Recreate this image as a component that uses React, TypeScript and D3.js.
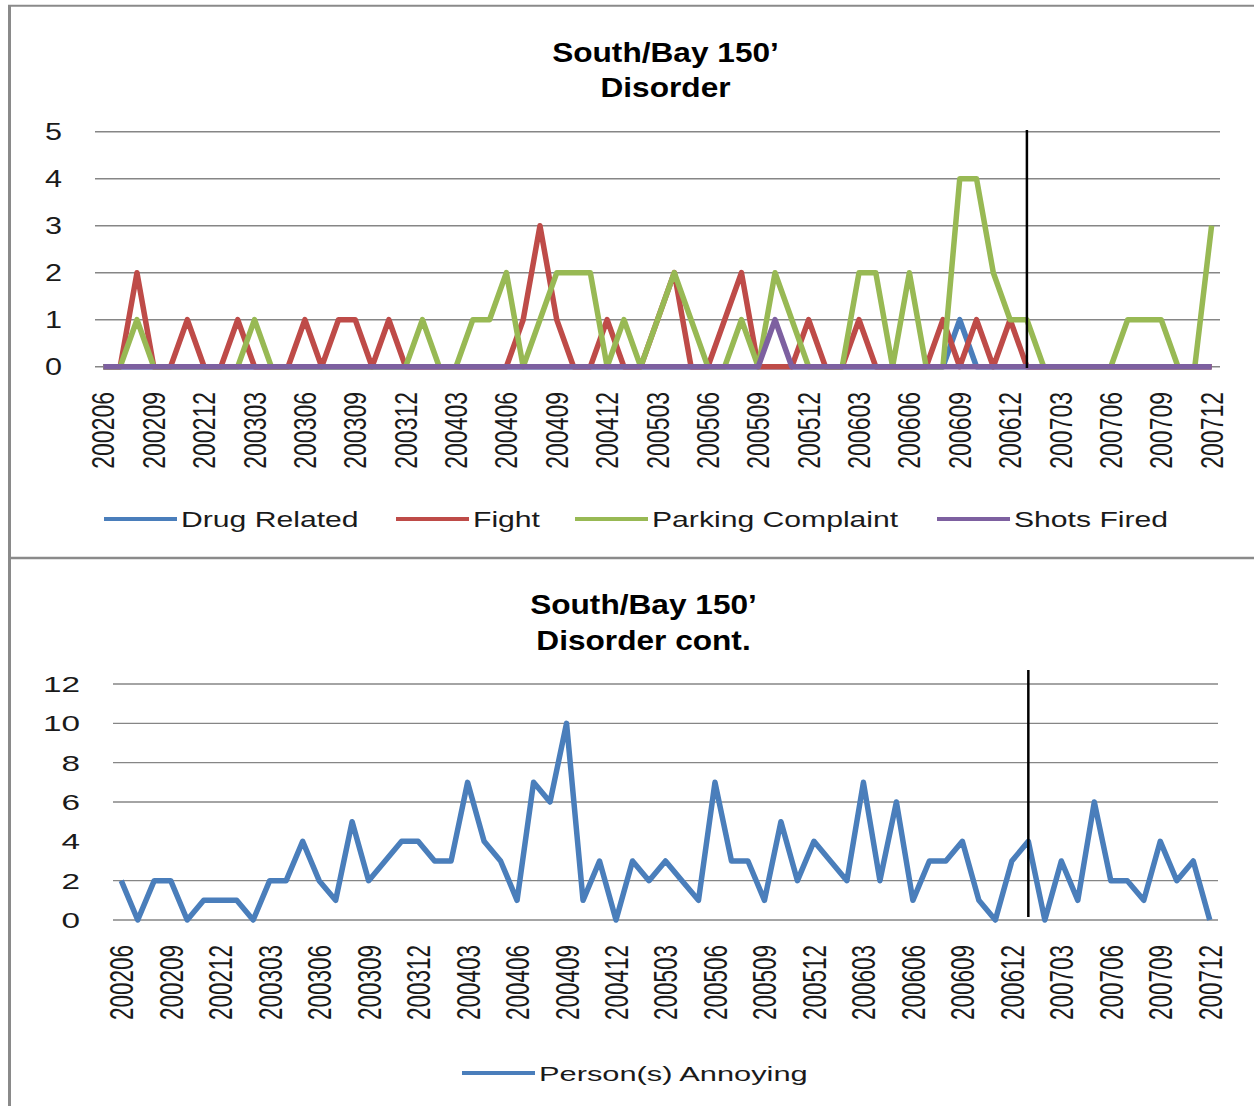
import React from "react";
import * as d3 from "d3";

// categories (year + month)
const months = [
  "200206", "200207", "200208", "200209", "200210", "200211", "200212",
  "200301", "200302", "200303", "200304", "200305", "200306", "200307", "200308", "200309", "200310", "200311", "200312",
  "200401", "200402", "200403", "200404", "200405", "200406", "200407", "200408", "200409", "200410", "200411", "200412",
  "200501", "200502", "200503", "200504", "200505", "200506", "200507", "200508", "200509", "200510", "200511", "200512",
  "200601", "200602", "200603", "200604", "200605", "200606", "200607", "200608", "200609", "200610", "200611", "200612",
  "200701", "200702", "200703", "200704", "200705", "200706", "200707", "200708", "200709", "200710", "200711", "200712",
];
const markerMonth = "200701";

// top panel, one value per month
const drugRelated = [
  0, 0, 0, 0, 0, 0, 0,
  0, 0, 0, 0, 0, 0, 0, 0, 0, 0, 0, 0,
  0, 0, 0, 0, 0, 0, 0, 0, 0, 0, 0, 0,
  0, 0, 0, 0, 0, 0, 0, 0, 0, 0, 0, 0,
  0, 0, 0, 0, 0, 0, 0, 0, 1, 0, 0, 0,
  0, 0, 0, 0, 0, 0, 0, 0, 0, 0, 0, 0,
];
const fight = [
  0, 0, 2, 0, 0, 1, 0,
  0, 1, 0, 0, 0, 1, 0, 1, 1, 0, 1, 0,
  0, 0, 0, 0, 0, 0, 1, 3, 1, 0, 0, 1,
  0, 0, 1, 2, 0, 0, 1, 2, 0, 0, 0, 1,
  0, 0, 1, 0, 0, 0, 0, 1, 0, 1, 0, 1,
  0, 0, 0, 0, 0, 0, 0, 0, 0, 0, 0, 0,
];
const parkingComplaint = [
  0, 0, 1, 0, 0, 0, 0,
  0, 0, 1, 0, 0, 0, 0, 0, 0, 0, 0, 0,
  1, 0, 0, 1, 1, 2, 0, 1, 2, 2, 2, 0,
  1, 0, 1, 2, 1, 0, 0, 1, 0, 2, 1, 0,
  0, 0, 2, 2, 0, 2, 0, 0, 4, 4, 2, 1,
  1, 0, 0, 0, 0, 0, 1, 1, 1, 0, 0, 3,
];
const shotsFired = [
  0, 0, 0, 0, 0, 0, 0,
  0, 0, 0, 0, 0, 0, 0, 0, 0, 0, 0, 0,
  0, 0, 0, 0, 0, 0, 0, 0, 0, 0, 0, 0,
  0, 0, 0, 0, 0, 0, 0, 0, 0, 1, 0, 0,
  0, 0, 0, 0, 0, 0, 0, 0, 0, 0, 0, 0,
  0, 0, 0, 0, 0, 0, 0, 0, 0, 0, 0, 0,
];

// bottom panel
const personsAnnoying = [
  2, 0, 2, 2, 0, 1, 1,
  1, 0, 2, 2, 4, 2, 1, 5, 2, 3, 4, 4,
  3, 3, 7, 4, 3, 1, 7, 6, 10, 1, 3, 0,
  3, 2, 3, 2, 1, 7, 3, 3, 1, 5, 2, 4,
  3, 2, 7, 2, 6, 1, 3, 3, 4, 1, 0, 3,
  4, 0, 3, 1, 6, 2, 2, 1, 4, 2, 3, 0,
];

const topTicks = [0, 1, 2, 3, 4, 5];
const bottomTicks = [0, 2, 4, 6, 8, 10, 12];

const FONT = "'Liberation Sans', Arial, sans-serif";
const GRID = "#868686";
const BORDER = "#8a8a8a";

type Series = { name: string; values: number[]; color: string };

const topSeries: Series[] = [
  { name: "Drug Related", values: drugRelated, color: "#4A7EBB" },
  { name: "Fight", values: fight, color: "#BE4B48" },
  { name: "Parking Complaint", values: parkingComplaint, color: "#98B954" },
  { name: "Shots Fired", values: shotsFired, color: "#7D60A0" },
];
const bottomSeries: Series[] = [
  { name: "Person(s) Annoying", values: personsAnnoying, color: "#4A7EBB" },
];

type PanelProps = {
  title: string[];
  titleX: number;
  titleY: number[];
  series: Series[];
  ticks: number[];
  gridSkip?: number[];
  left: number;
  right: number;
  top: number;
  bottom: number;
  yLabelX: number;
  xLabelTop: number;
  tickSize: number;
  sx: number;
  markerTop: number;
  markerBottom: number;
  legendX: number[];
  legendY: number;
  legendSize: number;
  legendSx: number;
};

const Panel = (p: PanelProps) => {
  const x = d3.scalePoint<string>().domain(months).range([p.left, p.right]).padding(0.5);
  const y = d3
    .scaleLinear()
    .domain([0, d3.max(p.ticks) as number])
    .range([p.bottom, p.top]);

  const line = d3
    .line<number>()
    .x((_, i) => x(months[i]) as number)
    .y((d) => y(d));

  const mx = x(markerMonth) as number;

  return (
    <g>
      {/* title */}
      {p.title.map((t, i) => (
        <text
          key={t}
          transform={`translate(${p.titleX},${p.titleY[i]}) scale(1.13,1)`}
          textAnchor="middle"
          fontFamily={FONT}
          fontWeight="bold"
          fontSize={28}
          fill="#000"
        >
          {t}
        </text>
      ))}

      {/* gridlines + y labels */}
      {p.ticks.map((t) => (
        <g key={`y-${t}`}>
          {!(p.gridSkip || []).includes(t) && (
            <line x1={p.left} x2={p.right} y1={y(t)} y2={y(t)} stroke={GRID} strokeWidth={1.4} />
          )}
          <text
            transform={`translate(${p.yLabelX},${y(t)}) scale(${p.sx},1)`}
            dy="0.36em"
            textAnchor="end"
            fontFamily={FONT}
            fontSize={p.tickSize}
            fill="#1a1a1a"
          >
            {t}
          </text>
        </g>
      ))}

      {/* x labels, every third month */}
      {months.map((m, i) =>
        i % 3 === 0 ? (
          <text
            key={m}
            transform={`translate(${x(m)},${p.xLabelTop}) scale(${p.sx},1) rotate(-90)`}
            dy="0.36em"
            textAnchor="end"
            fontFamily={FONT}
            fontSize={p.tickSize}
            fill="#1a1a1a"
          >
            {m}
          </text>
        ) : null
      )}

      {/* series */}
      {p.series.map((s) => (
        <path
          key={s.name}
          d={line(s.values) || ""}
          fill="none"
          stroke={s.color}
          strokeWidth={5.5}
          strokeLinejoin="round"
        />
      ))}

      {/* marker line */}
      <line x1={mx} x2={mx} y1={p.markerTop} y2={p.markerBottom} stroke="#000" strokeWidth={2.5} />

      {/* legend */}
      {p.series.map((s, i) => (
        <g key={`lg-${s.name}`}>
          <line
            x1={p.legendX[i]}
            x2={p.legendX[i] + 73}
            y1={p.legendY}
            y2={p.legendY}
            stroke={s.color}
            strokeWidth={4}
          />
          <text
            transform={`translate(${p.legendX[i] + 77},${p.legendY + 7.5}) scale(${p.legendSx},1)`}
            fontFamily={FONT}
            fontSize={p.legendSize}
            fill="#1a1a1a"
          >
            {s.name}
          </text>
        </g>
      ))}
    </g>
  );
};

export default function App() {
  return (
    <svg
      width={1254}
      height={1106}
      style={{ position: "absolute", left: 0, top: 0, background: "#fff", display: "block" }}
    >
      {/* frame */}
      <line x1={9.5} x2={9.5} y1={5} y2={1106} stroke={BORDER} strokeWidth={3} />
      <line x1={8} x2={1254} y1={5.8} y2={5.8} stroke={BORDER} strokeWidth={2} />
      <line x1={8} x2={1254} y1={558} y2={558} stroke={BORDER} strokeWidth={2.5} />

      <Panel
        title={["South/Bay 150\u2019", "Disorder"]}
        titleX={665.5}
        titleY={[62, 97]}
        series={topSeries}
        ticks={topTicks}
        left={95}
        right={1220}
        top={131.7}
        bottom={366.7}
        yLabelX={62}
        xLabelTop={392}
        tickSize={23}
        sx={1.33}
        markerTop={130}
        markerBottom={368}
        legendX={[104, 396, 575, 937]}
        legendY={519}
        legendSize={22}
        legendSx={1.37}
      />

      <Panel
        title={["South/Bay 150\u2019", "Disorder cont."]}
        titleX={643.5}
        titleY={[614, 650]}
        series={bottomSeries}
        ticks={bottomTicks}
        gridSkip={[4]}
        left={113}
        right={1218}
        top={684}
        bottom={920}
        yLabelX={80}
        xLabelTop={945}
        tickSize={22.5}
        sx={1.48}
        markerTop={670}
        markerBottom={917}
        legendX={[462]}
        legendY={1073}
        legendSize={20}
        legendSx={1.54}
      />
    </svg>
  );
}
